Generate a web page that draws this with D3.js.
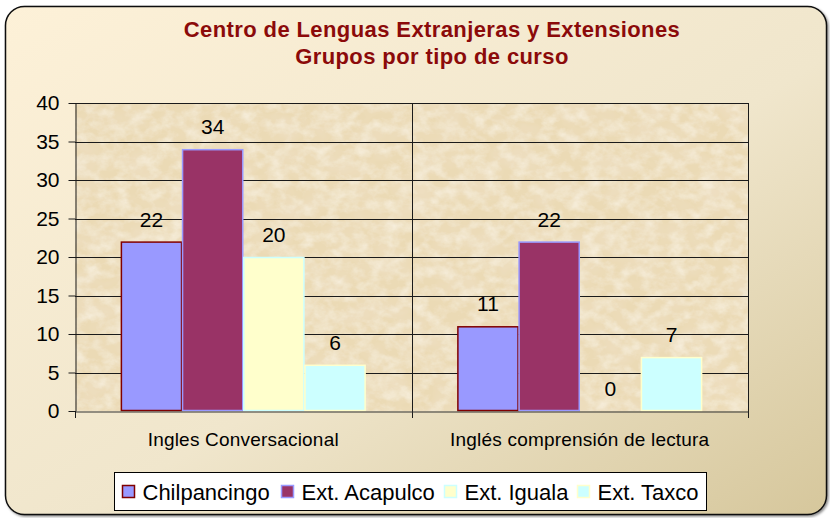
<!DOCTYPE html>
<html>
<head>
<meta charset="utf-8">
<script src="https://cdn.jsdelivr.net/npm/d3@7"></script>
<style>
  html, body { margin: 0; padding: 0; background: #ffffff; }
  svg { display: block; }
  text { font-family: Arial, "Liberation Sans", sans-serif; }
</style>
</head>
<body>
<svg id="chart" width="830" height="518"></svg>
<script>
// Course groups per campus
const categories = ["Ingles Conversacional", "Inglés comprensión de lectura"];
const seriesNames = ["Chilpancingo", "Ext. Acapulco", "Ext. Iguala", "Ext. Taxco"];
const chilpancingo = [22, 11];
const acapulco = [34, 22];
const iguala = [20, 0];
const taxco = [6, 7];
const yTicks = [0, 5, 10, 15, 20, 25, 30, 35, 40];
const titleLines = ["Centro de Lenguas Extranjeras y Extensiones", "Grupos por tipo de curso"];

const seriesValues = [chilpancingo, acapulco, iguala, taxco];
const fills = ["#9999ff", "#993366", "#ffffcc", "#ccffff"];
const strokes = ["#800000", "#9999ff", "#ccffff", "#ffffcc"];

const svg = d3.select("#chart");
const defs = svg.append("defs");

// Cream backdrop gradient
const bg = defs.append("linearGradient").attr("id", "bgGrad")
  .attr("x1", "0%").attr("y1", "0%").attr("x2", "100%").attr("y2", "100%");
bg.append("stop").attr("offset", "0%").attr("stop-color", "#fdf1d8");
bg.append("stop").attr("offset", "55%").attr("stop-color", "#f0e6cc");
bg.append("stop").attr("offset", "100%").attr("stop-color", "#d6c79c");

// Parchment texture for the plot area
const tex = defs.append("filter").attr("id", "parchment")
  .attr("x", 0).attr("y", 0).attr("width", "100%").attr("height", "100%");
tex.append("feTurbulence").attr("type", "fractalNoise")
  .attr("baseFrequency", "0.07 0.09").attr("numOctaves", 4).attr("seed", 7).attr("result", "noise");
tex.append("feColorMatrix").attr("in", "noise").attr("type", "matrix")
  .attr("values", "0 0 0 0 0.96  0 0 0 0 0.91  0 0 0 0 0.80  1.3 0 0 0 -0.5")
  .attr("result", "light");
tex.append("feTurbulence").attr("type", "fractalNoise")
  .attr("baseFrequency", "0.03 0.04").attr("numOctaves", 3).attr("seed", 3).attr("result", "noise2");
tex.append("feColorMatrix").attr("in", "noise2").attr("type", "matrix")
  .attr("values", "0 0 0 0 0.87  0 0 0 0 0.76  0 0 0 0 0.59  1.2 0 0 0 -0.5")
  .attr("result", "dark");
tex.append("feFlood").attr("flood-color", "#ebdab5").attr("result", "base");
tex.append("feMerge").selectAll("feMergeNode")
  .data(["base", "dark", "light"]).enter().append("feMergeNode").attr("in", d => d);

// Drop shadow for the outer frame
const sh = defs.append("filter").attr("id", "frameShadow")
  .attr("x", "-5%").attr("y", "-5%").attr("width", "110%").attr("height", "110%");
sh.append("feDropShadow").attr("dx", 1.5).attr("dy", 1.5).attr("stdDeviation", 1)
  .attr("flood-color", "#000").attr("flood-opacity", 0.45);

// Outer frame
svg.append("rect")
  .attr("x", 5.5).attr("y", 6.5).attr("width", 821).attr("height", 508)
  .attr("rx", 19).attr("ry", 19)
  .attr("fill", "url(#bgGrad)").attr("stroke", "#111").attr("stroke-width", 1.5)
  .attr("filter", "url(#frameShadow)");

// Title
svg.append("g").selectAll("text").data(titleLines).enter().append("text")
  .attr("x", 432).attr("y", (d, i) => 37 + i * 27)
  .attr("text-anchor", "middle")
  .attr("font-size", 22).attr("font-weight", "bold").attr("fill", "#8b0a0a")
  .attr("letter-spacing", 0.4)
  .text(d => d);

// Scales
const plotLeft = 75, plotRight = 748, plotTop = 103, plotBottom = 411;
const x0 = d3.scaleBand().domain(categories).range([plotLeft, plotRight]).padding(0);
const x1 = d3.scaleBand().domain(seriesNames).range([0, x0.bandwidth()])
  .paddingInner(0).paddingOuter(0.75);
const y = d3.scaleLinear().domain([0, 40]).range([plotBottom, plotTop]);

// Plot background
svg.append("rect")
  .attr("x", plotLeft).attr("y", plotTop)
  .attr("width", plotRight - plotLeft).attr("height", plotBottom - plotTop)
  .attr("fill", "#ebdab5").attr("filter", "url(#parchment)");

// Horizontal gridlines
svg.append("g").selectAll("line").data(yTicks.filter(t => t > 0)).enter().append("line")
  .attr("x1", plotLeft).attr("x2", plotRight)
  .attr("y1", d => Math.round(y(d)) + 0.5).attr("y2", d => Math.round(y(d)) + 0.5)
  .attr("stroke", "#1a1a1a").attr("stroke-width", 1);

// Category dividers and right border
const dividers = categories.map(c => x0(c) + x0.bandwidth());
svg.append("g").selectAll("line").data(dividers).enter().append("line")
  .attr("x1", d => Math.round(d) + 0.5).attr("x2", d => Math.round(d) + 0.5)
  .attr("y1", plotTop).attr("y2", plotBottom + 7)
  .attr("stroke", "#1a1a1a").attr("stroke-width", 1);

// Bars
const barData = [];
categories.forEach((c, ci) => {
  seriesNames.forEach((s, si) => {
    barData.push({ cat: c, series: s, si, value: seriesValues[si][ci] });
  });
});

svg.append("g").selectAll("rect").data(barData.filter(d => d.value > 0)).enter().append("rect")
  .attr("x", d => x0(d.cat) + x1(d.series) + 0.5)
  .attr("y", d => y(d.value) + 0.5)
  .attr("width", x1.bandwidth() - 1)
  .attr("height", d => y(0) - y(d.value) - 1)
  .attr("fill", d => fills[d.si])
  .attr("stroke", d => strokes[d.si]).attr("stroke-width", 1.5);

// Value labels
svg.append("g").selectAll("text").data(barData).enter().append("text")
  .attr("x", d => x0(d.cat) + x1(d.series) + x1.bandwidth() / 2)
  .attr("y", d => y(d.value) - 15)
  .attr("text-anchor", "middle").attr("font-size", 21).attr("fill", "#000")
  .text(d => d.value);

// Y axis
const yAxis = d3.axisLeft(y).tickValues(yTicks).tickSize(7).tickPadding(9).tickSizeOuter(0);
const yg = svg.append("g").attr("transform", `translate(${plotLeft + 0.5},0)`).call(yAxis);
yg.select(".domain").attr("stroke", "#1a1a1a");
yg.selectAll(".tick line").attr("stroke", "#1a1a1a");
yg.selectAll(".tick text").attr("font-size", 21).attr("fill", "#000")
  .attr("font-family", "Arial, 'Liberation Sans', sans-serif");

// X axis
const xAxis = d3.axisBottom(x0).tickSize(0).tickPadding(0).tickSizeOuter(0);
const xg = svg.append("g").attr("transform", `translate(0,${plotBottom + 0.5})`).call(xAxis);
xg.select(".domain").attr("stroke", "#333").attr("stroke-width", 1.2);
xg.selectAll(".tick text").attr("font-size", 19).attr("fill", "#000")
  .attr("letter-spacing", 0.2)
  .attr("dy", 0).attr("y", 34)
  .attr("font-family", "Arial, 'Liberation Sans', sans-serif");
svg.append("line")
  .attr("x1", plotLeft + 0.5).attr("x2", plotLeft + 0.5)
  .attr("y1", plotBottom).attr("y2", plotBottom + 7)
  .attr("stroke", "#1a1a1a");

// Legend
const legend = svg.append("g");
legend.append("rect")
  .attr("x", 114.5).attr("y", 472.5).attr("width", 592).attr("height", 38)
  .attr("fill", "#ffffff").attr("stroke", "#000").attr("stroke-width", 1);
const legendX = [122, 281, 444, 577];
const items = legend.selectAll("g.item").data(seriesNames).enter().append("g")
  .attr("transform", (d, i) => `translate(${legendX[i]},0)`);
items.append("rect")
  .attr("x", 0.5).attr("y", 485.5).attr("width", 12).attr("height", 12)
  .attr("fill", (d, i) => fills[i]).attr("stroke", (d, i) => strokes[i]).attr("stroke-width", 1.5);
items.append("text")
  .attr("x", 20.5).attr("y", 499.5)
  .attr("font-size", 22).attr("fill", "#000")
  .text(d => d);
</script>
</body>
</html>
